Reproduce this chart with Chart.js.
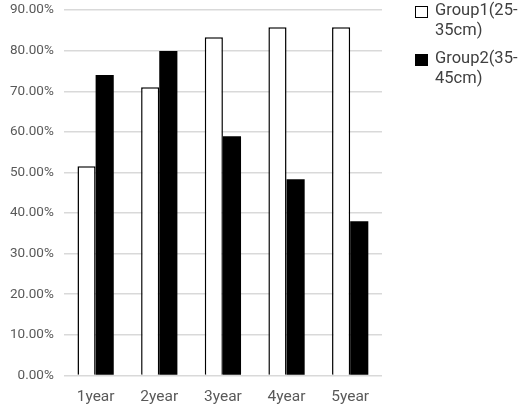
<!DOCTYPE html>
<html>
<head>
<meta charset="utf-8">
<script src="https://cdn.jsdelivr.net/npm/chart.js@4/dist/chart.umd.min.js"></script>
<style>
  html, body { margin: 0; padding: 0; background: #fff; overflow: hidden; }
  #wrap { position: relative; width: 520px; height: 410px; overflow: hidden; }
  #c { position: absolute; left: 0; top: -8px; }
  #legend { position: absolute; left: 415px; top: 0px; font-family: Roboto, "Noto Sans", sans-serif; font-size: 16.5px; color: #404040; line-height: 20px; }
  .item { position: relative; padding-left: 20px; margin-bottom: 8px; }
  .box { position: absolute; left: 0px; top: 6px; width: 13px; height: 12px; box-sizing: border-box; }
</style>
</head>
<body>
<div id="wrap">
  <canvas id="c" width="520" height="418"></canvas>
  <div id="legend"></div>
</div>
<script>
const categories = ["1year", "2year", "3year", "4year", "5year"];
const group1Label = ["Group1(25-", "35cm)"];
const group2Label = ["Group2(35-", "45cm)"];
const group1Values = [51.5, 71.0, 83.3, 85.8, 85.8];
const group2Values = [74.0, 79.9, 58.9, 48.3, 38.0];
const yTicks = [0, 10, 20, 30, 40, 50, 60, 70, 80, 90];

const font = "Roboto, 'Noto Sans', sans-serif";

const chart = new Chart(document.getElementById('c'), {
  type: 'bar',
  data: {
    labels: categories,
    datasets: [
      { label: group1Label.join(''), data: group1Values, backgroundColor: '#ffffff', borderColor: '#000000', borderWidth: 1.5, borderSkipped: 'bottom' },
      { label: group2Label.join(''), data: group2Values, backgroundColor: '#000000', borderColor: '#000000', borderWidth: 0 }
    ]
  },
  options: {
    responsive: false,
    animation: false,
    devicePixelRatio: 1,
    layout: { padding: { top: 0, right: 138, left: 0, bottom: 0 } },
    datasets: { bar: { categoryPercentage: 0.57, barPercentage: 1.0 } },
    plugins: {
      legend: { display: false },
      tooltip: { enabled: false }
    },
    scales: {
      x: {
        grid: { display: false },
        border: { display: false },
        ticks: { color: '#595959', font: { family: font, size: 15.5 }, padding: 4 }
      },
      y: {
        min: 0, max: 90,
        afterBuildTicks: (axis) => { axis.ticks = yTicks.map(v => ({ value: v })); },
        grid: { color: '#d9d9d9', lineWidth: 1.5, drawTicks: false },
        border: { display: false },
        ticks: { color: '#595959', font: { family: font, size: 13.5 }, padding: 10, callback: (v) => v.toFixed(2) + '%' }
      }
    }
  }
});

const legendEl = document.getElementById('legend');
const labelsArr = [group1Label, group2Label];
chart.data.datasets.forEach((ds, i) => {
  const item = document.createElement('div');
  item.className = 'item';
  const box = document.createElement('span');
  box.className = 'box';
  box.style.background = ds.backgroundColor;
  box.style.border = '1.5px solid #000';
  item.appendChild(box);
  labelsArr[i].forEach(line => {
    const d = document.createElement('div');
    d.textContent = line;
    item.appendChild(d);
  });
  legendEl.appendChild(item);
});
</script>
</body>
</html>
